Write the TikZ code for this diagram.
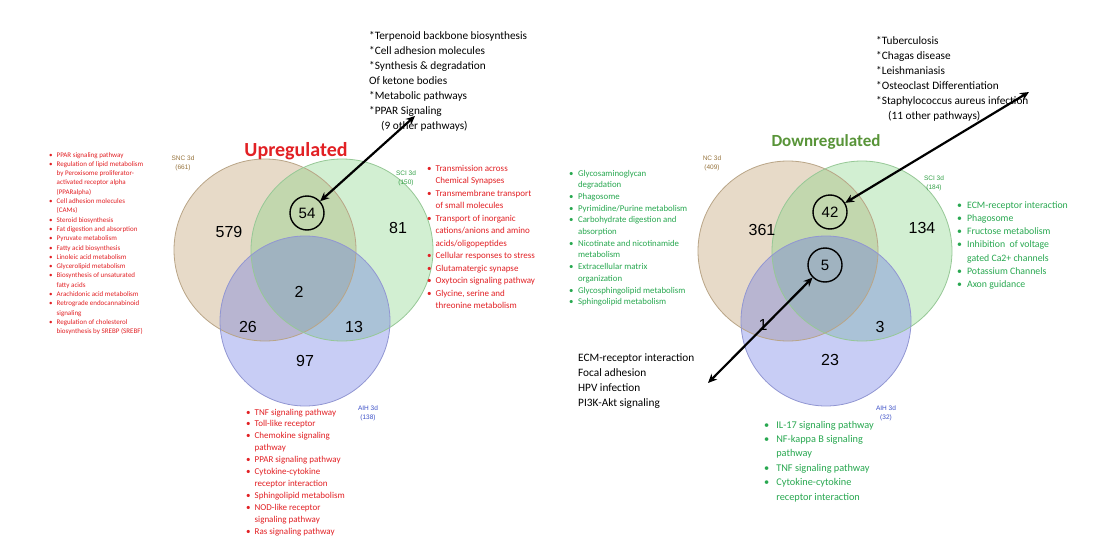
\documentclass[tikz,border=0pt]{standalone}
\usepackage{fontspec}
\setmainfont{Carlito}
\newfontfamily\arialf{Liberation Sans}
\usetikzlibrary{arrows.meta}
\definecolor{redtxt}{RGB}{226,32,36}
\definecolor{greentxt}{RGB}{40,168,80}
\definecolor{downgreen}{RGB}{88,148,56}
\definecolor{tanF}{RGB}{189,149,98}
\definecolor{greenF}{RGB}{127,212,127}
\definecolor{blueF}{RGB}{98,112,227}
\definecolor{tanB}{RGB}{185,165,135}
\definecolor{greenB}{RGB}{150,200,150}
\definecolor{blueB}{RGB}{145,150,210}
\definecolor{tanL}{RGB}{150,115,60}
\definecolor{greenL}{RGB}{50,160,70}
\definecolor{blueL}{RGB}{60,80,200}
\tikzset{
  vfill/.style={fill=#1, fill opacity=0.35, draw=none},
  vborder/.style={draw=#1, line width=0.8pt},
  bignum/.style={font=\arialf\fontsize{16}{16}\selectfont, inner sep=0pt},
  cnum/.style={circle, draw=black, line width=1.4pt, minimum size=34pt, inner sep=0pt, font=\arialf\fontsize{15}{15}\selectfont},
  setlab/.style={font=\arialf\fontsize{6.5}{9}\selectfont, align=center, inner sep=0pt},
  lst/.style={anchor=base west, inner sep=0pt, align=left},
  link/.style={{Stealth[length=9pt,width=8pt]}-{Stealth[length=9pt,width=8pt]}, line width=2.2pt, black},
  ttl/.style={font=\bfseries\fontsize{#1}{#1}\selectfont, inner sep=0pt},
}
\begin{document}
\begin{tikzpicture}[x=1pt,y=-1pt]
\useasboundingbox (0,0) rectangle (1120,546);
\fill[white] (0,0) rectangle (1120,546);

% ---------------- Left Venn ----------------
\fill[vfill=tanF] (265,250) circle[radius=91pt];
\fill[vfill=greenF] (342,250) circle[radius=91pt];
\fill[vfill=blueF] (305,321) circle[radius=85pt];
\draw[vborder=tanB] (265,250) circle[radius=91pt];
\draw[vborder=greenB] (342,250) circle[radius=91pt];
\draw[vborder=blueB] (305,321) circle[radius=85pt];

\node[setlab, text=tanL] (lsnc) at (183,163) {SNC 3d\\(661)};
\node[setlab, text=greenL] (lsci) at (406,178) {SCI 3d\\(150)};
\node[setlab, text=blueL] (laih) at (368,413) {AIH 3d\\(138)};

\node[bignum] (n579) at (229,232) {579};
\node[cnum] (c54) at (307,213) {54};
\node[bignum] (n81) at (398,228) {81};
\node[bignum] (n2) at (299,292) {2};
\node[bignum] (n26) at (248,327) {26};
\node[bignum] (n13) at (354,327) {13};
\node[bignum] (n97) at (305,361) {97};

\node[ttl=20, text=redtxt] (tup) at (296,151) {Upregulated};

\coordinate (aL) at (415,116);
\draw[link] (c54) -- (aL);

\node[lst, font=\fontsize{11.3}{15}\selectfont] (topL) at (369,39) {\begin{tabular}[t]{@{}l@{}}
*Terpenoid backbone biosynthesis\\
{}*Cell adhesion molecules\\
{}*Synthesis \& degradation\\
Of ketone bodies\\
{}*Metabolic pathways\\
{}*PPAR Signaling\\
\hspace{12pt}(9 other pathways)
\end{tabular}};

\node[lst, text=redtxt, font=\fontsize{7}{9.3}\selectfont] (listL) at (49,157) {\begin{tabular}[t]{@{}l@{\hspace{4pt}}l@{}}
\textbullet & PPAR signaling pathway\\
\textbullet & Regulation of lipid metabolism\\
 & by Peroxisome proliferator-\\
 & activated receptor alpha\\
 & (PPARalpha)\\
\textbullet & Cell adhesion molecules\\
 & (CAMs)\\
\textbullet & Steroid biosynthesis\\
\textbullet & Fat digestion and absorption\\
\textbullet & Pyruvate metabolism\\
\textbullet & Fatty acid biosynthesis\\
\textbullet & Linoleic acid metabolism\\
\textbullet & Glycerolipid metabolism\\
\textbullet & Biosynthesis of unsaturated\\
 & fatty acids\\
\textbullet & Arachidonic acid metabolism\\
\textbullet & Retrograde endocannabinoid\\
 & signaling\\
\textbullet & Regulation of cholesterol\\
 & biosynthesis by SREBP (SREBF)
\end{tabular}};

\node[lst, text=redtxt, font=\fontsize{9}{12.5}\selectfont] (listR) at (427,171) {\begin{tabular}[t]{@{}l@{\hspace{4pt}}l@{}}
\textbullet & Transmission across\\
 & Chemical Synapses\\
\textbullet & Transmembrane transport\\
 & of small molecules\\
\textbullet & Transport of inorganic\\
 & cations/anions and amino\\
 & acids/oligopeptides\\
\textbullet & Cellular responses to stress\\
\textbullet & Glutamatergic synapse\\
\textbullet & Oxytocin signaling pathway\\
\textbullet & Glycine, serine and\\
 & threonine metabolism
\end{tabular}};

\node[lst, text=redtxt, font=\fontsize{9}{11.9}\selectfont] (listB) at (246,415) {\begin{tabular}[t]{@{}l@{\hspace{4pt}}l@{}}
\textbullet & TNF signaling pathway\\
\textbullet & Toll-like receptor\\
\textbullet & Chemokine signaling\\
 & pathway\\
\textbullet & PPAR signaling pathway\\
\textbullet & Cytokine-cytokine\\
 & receptor interaction\\
\textbullet & Sphingolipid metabolism\\
\textbullet & NOD-like receptor\\
 & signaling pathway\\
\textbullet & Ras signaling pathway
\end{tabular}};

% ---------------- Right Venn ----------------
\fill[vfill=tanF] (788,251) circle[radius=90pt];
\fill[vfill=greenF] (862,251) circle[radius=90pt];
\fill[vfill=blueF] (826,321) circle[radius=85pt];
\draw[vborder=tanB] (788,251) circle[radius=90pt];
\draw[vborder=greenB] (862,251) circle[radius=90pt];
\draw[vborder=blueB] (826,321) circle[radius=85pt];

\node[setlab, text=tanL] (rnc) at (712,163) {NC 3d\\(409)};
\node[setlab, text=greenL] (rsci) at (934,183) {SCI 3d\\(184)};
\node[setlab, text=blueL] (raih) at (886,413) {AIH 3d\\(32)};

\node[bignum] (n361) at (762,230) {361};
\node[cnum] (c42) at (830,212) {42};
\node[bignum] (n134) at (922,228) {134};
\node[cnum] (c5) at (825,265) {5};
\node[bignum] (n1) at (763,325) {1};
\node[bignum] (n3) at (880,327) {3};
\node[bignum] (n23) at (830,360) {23};

\node[ttl=17, text=downgreen] (tdown) at (826,142) {Downregulated};

\coordinate (aR) at (1029,92);
\draw[link] (c42) -- (aR);
\coordinate (aB) at (708,383);
\draw[link] (c5) -- (aB);

\node[lst, font=\fontsize{11.3}{15}\selectfont] (topR) at (876,45) {\begin{tabular}[t]{@{}l@{}}
*Tuberculosis\\
{}*Chagas disease\\
{}*Leishmaniasis\\
{}*Osteoclast Differentiation\\
{}*Staphylococcus aureus infection\\
\hspace{12pt}(11 other pathways)
\end{tabular}};

\node[lst, font=\fontsize{11.3}{15.3}\selectfont] (botM) at (578,361) {\begin{tabular}[t]{@{}l@{}}
ECM-receptor interaction\\
Focal adhesion\\
HPV infection\\
PI3K-Akt signaling
\end{tabular}};

\node[lst, text=greentxt, font=\fontsize{8.8}{11.7}\selectfont] (listG) at (569,176) {\begin{tabular}[t]{@{}l@{\hspace{4.5pt}}l@{}}
\textbullet & Glycosaminoglycan\\
 & degradation\\
\textbullet & Phagosome\\
\textbullet & Pyrimidine/Purine metabolism\\
\textbullet & Carbohydrate digestion and\\
 & absorption\\
\textbullet & Nicotinate and nicotinamide\\
 & metabolism\\
\textbullet & Extracellular matrix\\
 & organization\\
\textbullet & Glycosphingolipid metabolism\\
\textbullet & Sphingolipid metabolism
\end{tabular}};

\node[lst, text=greentxt, font=\fontsize{9.8}{13.3}\selectfont] (listGR) at (957,208) {\begin{tabular}[t]{@{}l@{\hspace{5pt}}l@{}}
\textbullet & ECM-receptor interaction\\
\textbullet & Phagosome\\
\textbullet & Fructose metabolism\\
\textbullet & Inhibition\ \ of voltage\\
 & gated Ca2+ channels\\
\textbullet & Potassium Channels\\
\textbullet & Axon guidance
\end{tabular}};

\node[lst, text=greentxt, font=\fontsize{10.3}{14.4}\selectfont] (listGB) at (764,428) {\begin{tabular}[t]{@{}l@{\hspace{7pt}}l@{}}
\textbullet & IL-17 signaling pathway\\
\textbullet & NF-kappa B signaling\\
 & pathway\\
\textbullet & TNF signaling pathway\\
\textbullet & Cytokine-cytokine\\
 & receptor interaction
\end{tabular}};

\end{tikzpicture}
\end{document}
